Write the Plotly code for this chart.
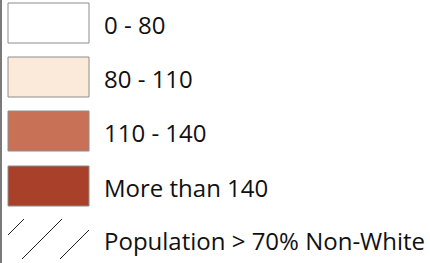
import plotly.graph_objects as go

# Legend data
class_labels = ["0 - 80", "80 - 110", "110 - 140", "More than 140"]
class_colors = ["#ffffff", "#fbeada", "#c97156", "#a9402a"]
hatch_label = "Population > 70% Non-White"

W, H = 430, 263
row_tops = [3, 57, 111, 166, 219]
box_x0, box_x1 = 8, 89
box_h = 40
text_x = 102
font = dict(family="Open Sans", size=24, color="#111111")

fig = go.Figure()
shapes = []
annotations = []

# left border line
shapes.append(dict(type="line", xref="x", yref="y", x0=1, x1=1, y0=0, y1=H,
                   line=dict(color="#7a7a7a", width=2)))

for i, (lab, col) in enumerate(zip(class_labels, class_colors)):
    y0 = row_tops[i]
    shapes.append(dict(type="rect", xref="x", yref="y", x0=box_x0, x1=box_x1,
                       y0=y0, y1=y0 + box_h, fillcolor=col,
                       line=dict(color="#8c8c8c", width=1)))
    annotations.append(dict(x=text_x, y=y0 + box_h / 2 + 1, xref="x", yref="y",
                            text=lab, showarrow=False, xanchor="left",
                            yanchor="middle", font=font))

# hatch row
hy0 = row_tops[-1]
hy1 = hy0 + box_h
for s in [243, 281, 319]:
    pts = []
    for x in (box_x0, box_x1):
        y = s - x
        if hy0 <= y <= hy1:
            pts.append((x, y))
    for y in (hy0, hy1):
        x = s - y
        if box_x0 <= x <= box_x1:
            pts.append((x, y))
    pts = sorted(set(pts))
    if len(pts) >= 2:
        (xa, ya), (xb, yb) = pts[0], pts[-1]
        shapes.append(dict(type="line", xref="x", yref="y", x0=xa, y0=ya,
                           x1=xb, y1=yb, line=dict(color="#222222", width=1)))
annotations.append(dict(x=text_x, y=hy0 + box_h / 2 + 1, xref="x", yref="y",
                        text=hatch_label, showarrow=False, xanchor="left",
                        yanchor="middle", font=font))

fig.update_layout(
    width=W, height=H, autosize=False,
    margin=dict(l=0, r=0, t=0, b=0),
    paper_bgcolor="white", plot_bgcolor="white",
    xaxis=dict(range=[0, W], visible=False, fixedrange=True),
    yaxis=dict(range=[H, 0], visible=False, fixedrange=True),
    shapes=shapes, annotations=annotations, showlegend=False,
)
fig.write_html("out.html", config={"displayModeBar": False},
               post_script="document.body.style.margin='0';document.body.style.overflow='hidden';")
